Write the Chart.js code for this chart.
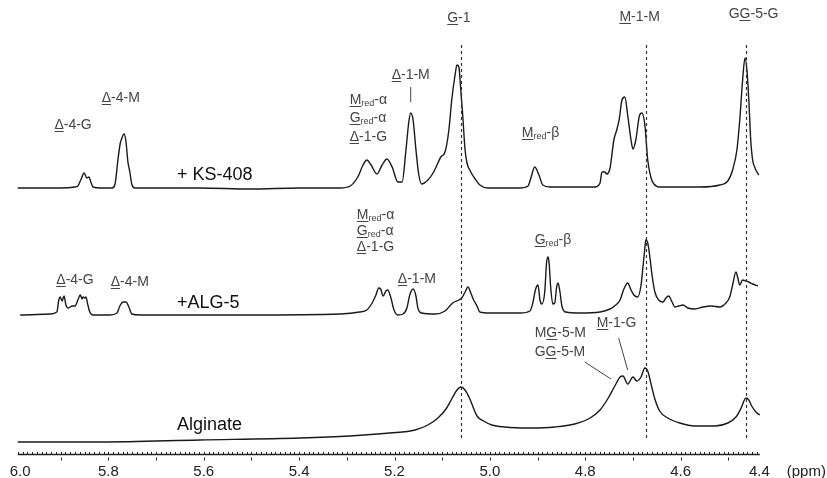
<!DOCTYPE html>
<html>
<head>
<meta charset="utf-8">
<script src="https://cdn.jsdelivr.net/npm/chart.js@4.4.0/dist/chart.umd.min.js"></script>
<style>
  body { margin: 0; background: #fff; }
  #wrap { width: 827px; height: 478px; }
</style>
</head>
<body>
<div id="wrap"><canvas id="nmr" width="827" height="478"></canvas></div>
<script>
// chemical shift (ppm) and intensity, relative to its own baseline
const ppmKS = [5.990,5.901,5.870,5.864,5.857,5.851,5.845,5.841,5.836,5.832,5.818,5.792,5.786,5.780,5.775,5.773,5.769,5.767,5.763,5.759,5.755,5.751,5.744,5.608,5.503,5.398,5.314,5.293,5.277,5.266,5.258,5.249,5.237,5.226,5.216,5.205,5.193,5.184,5.176,5.170,5.166,5.161,5.155,5.149,5.143,5.130,5.119,5.109,5.103,5.094,5.086,5.080,5.073,5.069,5.065,5.061,5.057,5.052,5.048,5.040,5.031,5.021,5.004,4.937,4.920,4.914,4.906,4.897,4.889,4.874,4.780,4.769,4.765,4.759,4.755,4.748,4.740,4.734,4.729,4.723,4.717,4.711,4.704,4.700,4.694,4.686,4.681,4.675,4.669,4.662,4.656,4.644,4.560,4.518,4.501,4.491,4.482,4.476,4.470,4.465,4.461,4.457,4.453,4.449,4.444,4.440,4.436];
const intKS = [0,0,1,2,9,15,10,11,5,1,0,0,4,28,45,48,53,54,46,26,16,4,0,0,-1,0,0,2,11,23,28,23,14,23,29,21,6,6,38,66,75,68,38,13,4,8,15,25,31,36,58,88,113,123,121,98,73,38,25,16,9,3,0,0,2,10,21,13,3,1,1,5,16,16,14,20,48,58,68,88,91,73,48,39,48,73,75,63,28,10,4,1,1,3,7,18,38,68,108,130,118,88,48,28,20,16,13];

const ppmALG = [5.985,5.922,5.908,5.904,5.901,5.897,5.893,5.889,5.884,5.876,5.870,5.864,5.859,5.855,5.853,5.849,5.847,5.843,5.839,5.832,5.797,5.782,5.776,5.769,5.763,5.757,5.751,5.734,5.503,5.314,5.273,5.258,5.247,5.239,5.233,5.229,5.224,5.218,5.214,5.208,5.201,5.193,5.182,5.174,5.168,5.161,5.155,5.151,5.143,5.115,5.094,5.078,5.065,5.059,5.052,5.046,5.040,5.034,5.027,5.021,5.000,4.937,4.916,4.910,4.904,4.899,4.895,4.891,4.885,4.881,4.878,4.876,4.872,4.868,4.864,4.860,4.857,4.853,4.849,4.841,4.811,4.769,4.748,4.736,4.727,4.719,4.711,4.704,4.698,4.690,4.683,4.679,4.675,4.673,4.669,4.665,4.660,4.654,4.646,4.637,4.631,4.625,4.618,4.612,4.604,4.595,4.585,4.570,4.553,4.535,4.518,4.505,4.497,4.491,4.484,4.480,4.476,4.470,4.463,4.457,4.449,4.438];
const intALG = [-2,-1,1,13,16,12,17,8,5,7,7,13,18,14,16,15,16,8,1,-2,-2,0,7,11,11,6,-1,-2,-2,-1,1,3,10,18,25,24,17,22,23,16,3,-2,-1,5,18,24,17,5,0,-1,2,10,13,15,21,26,20,13,7,1,0,0,2,10,24,28,13,9,21,51,56,51,23,9,10,26,30,21,7,1,0,1,4,8,13,24,30,23,18,16,28,46,65,73,70,58,38,21,13,11,15,17,11,6,7,8,5,4,6,7,6,10,16,28,41,35,28,33,32,31,29,27];

const ppmAlginate = [5.990,5.818,5.608,5.398,5.294,5.210,5.157,5.130,5.109,5.092,5.080,5.069,5.061,5.052,5.042,5.027,5.013,4.996,4.969,4.916,4.864,4.822,4.790,4.769,4.753,4.738,4.727,4.721,4.711,4.700,4.692,4.683,4.675,4.669,4.662,4.654,4.644,4.627,4.602,4.570,4.528,4.501,4.484,4.474,4.463,4.457,4.451,4.442,4.434];
const intAlginate = [0,0,2,4,6,9,12,17,24,33,43,52,55,52,43,26,21,17,15,14,15,18,24,32,43,56,65,66,58,65,61,65,74,71,58,43,31,24,19,16,16,19,25,33,44,42,36,30,27];

const traceNames = ['+ KS-408', '+ALG-5', 'Alginate'];
const traceOffsets = [266, 141, 12];
const guidePpm = [5.061, 4.673, 4.462];
const tickValues = [6.0, 5.8, 5.6, 5.4, 5.2, 5.0, 4.8, 4.6, 4.4];

const FONT = '"Liberation Sans", Arial, sans-serif';

// annotation texts: [text, style] with u = underline, s = subscript
const labels = [
  {p: 5.065, h: 436, a: 'center', t: [['G','u'],['-1','']]},
  {p: 4.686, h: 437, a: 'center', t: [['M','u'],['-1-M','']]},
  {p: 4.447, h: 440, a: 'center', t: [['G',''],['G','u'],['-5-G','']]},
  {p: 5.774, h: 356, a: 'center', t: [['Δ','u'],['-4-M','']]},
  {p: 5.874, h: 329, a: 'center', t: [['Δ','u'],['-4-G','']]},
  {p: 5.166, h: 379, a: 'center', t: [['Δ','u'],['-1-M','']]},
  {p: 5.294, h: 354, a: 'left', t: [['M','u'],['red','s'],['-α','']]},
  {p: 5.294, h: 336, a: 'left', t: [['G','u'],['red','s'],['-α','']]},
  {p: 5.294, h: 317, a: 'left', t: [['Δ','u'],['-1-G','']]},
  {p: 4.933, h: 321, a: 'left', t: [['M','u'],['red','s'],['-β','']]},
  {p: 5.279, h: 239, a: 'left', t: [['M','u'],['red','s'],['-α','']]},
  {p: 5.279, h: 223, a: 'left', t: [['G','u'],['red','s'],['-α','']]},
  {p: 5.279, h: 207, a: 'left', t: [['Δ','u'],['-1-G','']]},
  {p: 5.193, h: 175, a: 'left', t: [['Δ','u'],['-1-M','']]},
  {p: 5.870, h: 174, a: 'center', t: [['Δ','u'],['-4-G','']]},
  {p: 5.755, h: 172, a: 'center', t: [['Δ','u'],['-4-M','']]},
  {p: 4.906, h: 214, a: 'left', t: [['G','u'],['red','s'],['-β','']]},
  {p: 4.906, h: 121, a: 'left', t: [['M',''],['G','u'],['-5-M','']]},
  {p: 4.906, h: 102, a: 'left', t: [['G',''],['G','u'],['-5-M','']]},
  {p: 4.776, h: 131, a: 'left', t: [['M','u'],['-1-G','']]}
];
const nameLabels = [
  {p: 5.656, h: 279},
  {p: 5.656, h: 151},
  {p: 5.656, h: 29}
];
const leaders = [
  [5.166, 367, 5.166, 352],
  [4.801, 92, 4.746, 75],
  [4.730, 116, 4.711, 84]
];

function drawRich(ctx, x, y, parts, size, color, align) {
  const subSize = Math.round(size * 0.65);
  const widths = parts.map(([txt, st]) => {
    ctx.font = (st === 's' ? subSize : size) + 'px ' + FONT;
    return ctx.measureText(txt).width;
  });
  const total = widths.reduce((a, b) => a + b, 0);
  let cx = align === 'center' ? x - total / 2 : x;
  ctx.fillStyle = color;
  ctx.strokeStyle = color;
  ctx.textAlign = 'left';
  ctx.textBaseline = 'middle';
  parts.forEach(([txt, st], i) => {
    ctx.font = (st === 's' ? subSize : size) + 'px ' + FONT;
    ctx.fillText(txt, cx, st === 's' ? y + 4 : y);
    if (st === 'u') {
      ctx.lineWidth = 1;
      ctx.beginPath();
      ctx.moveTo(cx, Math.round(y + size * 0.45) + 0.5);
      ctx.lineTo(cx + widths[i], Math.round(y + size * 0.45) + 0.5);
      ctx.stroke();
    }
    cx += widths[i];
  });
}

const overlay = {
  id: 'overlay',
  afterDatasetsDraw(chart) {
    const {ctx, scales: {x, y}} = chart;
    ctx.save();

    // dashed guide lines
    ctx.strokeStyle = '#333';
    ctx.lineWidth = 1.2;
    ctx.setLineDash([3, 3]);
    guidePpm.forEach(p => {
      const px = Math.round(x.getPixelForValue(p)) + 0.5;
      ctx.beginPath();
      ctx.moveTo(px, y.getPixelForValue(409));
      ctx.lineTo(px, y.getPixelForValue(14));
      ctx.stroke();
    });
    ctx.setLineDash([]);

    // ruler axis
    const ya = Math.round(y.getPixelForValue(0)) + 0.5;
    const xs = x.getPixelForValue(5.99), xe = x.getPixelForValue(4.434);
    ctx.strokeStyle = '#222';
    ctx.lineWidth = 1.5;
    ctx.beginPath();
    ctx.moveTo(xs, ya);
    ctx.lineTo(xe, ya);
    ctx.stroke();
    ctx.lineWidth = 1;
    for (let i = 444; i <= 599; i++) {
      const px = Math.round(x.getPixelForValue(i / 100)) + 0.5;
      ctx.beginPath();
      ctx.moveTo(px, ya - 2.5);
      ctx.lineTo(px, ya);
      if (i % 10 === 0) {
        ctx.moveTo(px, ya + 3);
        ctx.lineTo(px, ya + 6);
      }
      ctx.stroke();
    }

    // tick labels, kept near the ruler ends
    ctx.font = '15px ' + FONT;
    ctx.fillStyle = '#222';
    ctx.textBaseline = 'middle';
    tickValues.forEach(v => {
      const lbl = v.toFixed(1);
      const w = ctx.measureText(lbl).width;
      let px = x.getPixelForValue(v) - w / 2;
      px = Math.max(xs - 8, Math.min(xe + 10 - w, px));
      ctx.textAlign = 'left';
      ctx.fillText(lbl, px, ya + 17);
    });
    ctx.fillText('(ppm)', xe + 27, ya + 17);

    // leader lines
    ctx.strokeStyle = '#444';
    ctx.lineWidth = 1;
    leaders.forEach(([p1, h1, p2, h2]) => {
      ctx.beginPath();
      ctx.moveTo(x.getPixelForValue(p1), y.getPixelForValue(h1));
      ctx.lineTo(x.getPixelForValue(p2), y.getPixelForValue(h2));
      ctx.stroke();
    });

    labels.forEach(l => drawRich(ctx, x.getPixelForValue(l.p), y.getPixelForValue(l.h), l.t, 14, '#444', l.a));
    nameLabels.forEach((l, i) => drawRich(ctx, x.getPixelForValue(l.p), y.getPixelForValue(l.h), [[traceNames[i], '']], 18, '#111', 'left'));

    ctx.restore();
  }
};

const series = [[ppmKS, intKS], [ppmALG, intALG], [ppmAlginate, intAlginate]];

new Chart(document.getElementById('nmr'), {
  type: 'line',
  data: {
    datasets: series.map(([p, v], i) => ({
      label: traceNames[i],
      data: p.map((ppm, k) => ({x: ppm, y: v[k] + traceOffsets[i]})),
      borderColor: '#1a1a1a',
      borderWidth: 1.4,
      pointRadius: 0,
      cubicInterpolationMode: 'monotone',
      fill: false
    }))
  },
  options: {
    responsive: false,
    devicePixelRatio: 1,
    animation: false,
    layout: {padding: {left: 13, right: 51, top: 0, bottom: 24}},
    plugins: {legend: {display: false}, tooltip: {enabled: false}},
    scales: {
      x: {type: 'linear', min: 4.4, max: 6.0, reverse: true, display: false},
      y: {min: 0, max: 454, display: false}
    }
  },
  plugins: [overlay]
});
</script>
</body>
</html>
